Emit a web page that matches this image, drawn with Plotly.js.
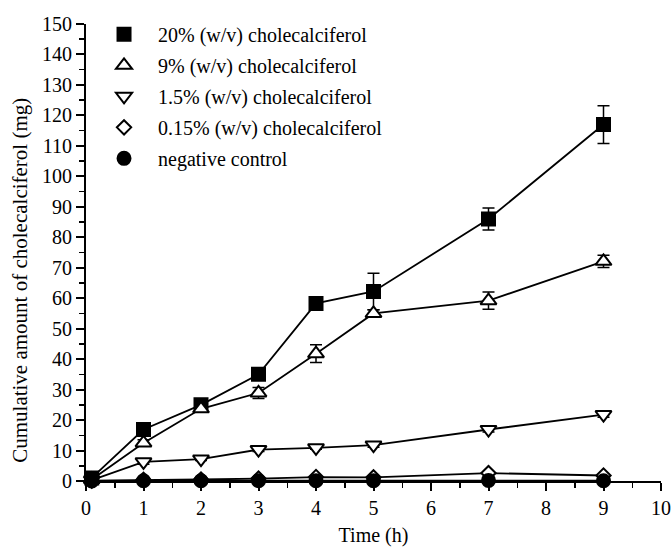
<!DOCTYPE html>
<html>
<head>
<meta charset="utf-8">
<script src="https://cdn.plot.ly/plotly-3.0.1.min.js"></script>
<style>html,body{margin:0;padding:0;background:#fff;}#chart{width:672px;height:547px;}</style>
</head>
<body>
<div id="chart"></div>
<script>
var timeH = [0.1, 1, 2, 3, 4, 5, 7, 9];
var names = ["20% (w/v) cholecalciferol", "9% (w/v) cholecalciferol", "1.5% (w/v) cholecalciferol", "0.15% (w/v) cholecalciferol", "negative control"];
var v20 = [1.0, 16.9, 25.0, 35.0, 58.3, 62.2, 86.0, 117.0];
var e20 = [0.5, 1.5, 1.0, 1.5, 1.0, 6.0, 3.6, 6.2];
var v9 = [0.5, 12.5, 23.7, 28.9, 41.8, 55.0, 59.2, 72.1];
var e9 = [0.3, 1.0, 1.0, 1.8, 2.9, 1.2, 2.8, 2.0];
var v15 = [0.3, 6.3, 7.2, 10.3, 10.9, 11.8, 16.9, 21.8];
var e15 = [0.2, 0.8, 0.5, 0.6, 0.5, 0.7, 0.8, 0.9];
var v015 = [0.1, 0.4, 0.5, 0.8, 1.3, 1.2, 2.6, 1.8];
var e015 = [0.1, 0.2, 0.2, 0.3, 0.3, 0.3, 0.4, 0.3];
var vNeg = [0.0, 0.1, 0.1, 0.1, 0.1, 0.1, 0.2, 0.1];
var eNeg = [0.05, 0.05, 0.05, 0.05, 0.05, 0.05, 0.05, 0.05];
var yTitle = "Cumulative amount of cholecalciferol (mg)";
var xTitle = "Time (h)";

var FONT = "Liberation Serif, Times New Roman, serif";
var series = [
  {i: 0, y: v20, e: e20, sym: "square", size: 13, fill: "black"},
  {i: 1, y: v9, e: e9, sym: "triangle-up", size: 14, fill: "white"},
  {i: 2, y: v15, e: e15, sym: "triangle-down", size: 14, fill: "white"},
  {i: 3, y: v015, e: e015, sym: "diamond", size: 11, fill: "white"},
  {i: 4, y: vNeg, e: eNeg, sym: "circle", size: 13, fill: "black"}
];
var data = [];
series.slice().reverse().forEach(function (s) {
  data.push({x: timeH, y: s.y, type: "scatter", mode: "lines", showlegend: false, hoverinfo: "skip",
             cliponaxis: false, line: {color: "black", width: 1.8}});
});
series.forEach(function (s) {
  data.push({x: timeH, y: s.y, name: names[s.i], type: "scatter", mode: "markers",
             legendgroup: "g" + s.i, legendrank: s.i + 1, cliponaxis: false,
             marker: {symbol: s.sym, size: s.size, color: s.fill, line: {color: "black", width: 2}},
             error_y: {type: "data", array: s.e, visible: true, color: "black", thickness: 1.5, width: 6}});
});
var layout = {
  width: 672, height: 547,
  margin: {l: 86, r: 11, t: 24, b: 66},
  paper_bgcolor: "white", plot_bgcolor: "white",
  font: {family: FONT, size: 20, color: "black"},
  showlegend: true,
  legend: {x: 0.007, y: 1.02, xanchor: "left", yanchor: "top", traceorder: "grouped",
           itemwidth: 58, tracegroupgap: 2, font: {family: FONT, size: 20}, bgcolor: "rgba(0,0,0,0)"},
  xaxis: {range: [0, 10], dtick: 1, tick0: 0, showline: true, linecolor: "black", linewidth: 2,
          ticks: "outside", ticklen: 8, tickwidth: 2, tickcolor: "black", showgrid: false, zeroline: false,
          minor: {dtick: 0.5, ticks: "outside", ticklen: 5, tickwidth: 1.5, tickcolor: "black"},
          tickfont: {family: FONT, size: 20},
          title: {text: xTitle, font: {family: FONT, size: 20}, standoff: 12}},
  yaxis: {range: [0, 150], dtick: 10, tick0: 0, showline: true, linecolor: "black", linewidth: 2,
          ticks: "outside", ticklen: 8, tickwidth: 2, tickcolor: "black", showgrid: false, zeroline: false,
          minor: {dtick: 5, ticks: "outside", ticklen: 5, tickwidth: 1.5, tickcolor: "black"},
          tickfont: {family: FONT, size: 20}},
  annotations: [{text: yTitle, textangle: -90, showarrow: false, xref: "paper", yref: "paper",
                 x: -0.115, y: 0.44, xanchor: "center", yanchor: "middle",
                 font: {family: FONT, size: 21, color: "black"}}]
};
Plotly.newPlot("chart", data, layout, {displayModeBar: false, staticPlot: true});
</script>
</body>
</html>
